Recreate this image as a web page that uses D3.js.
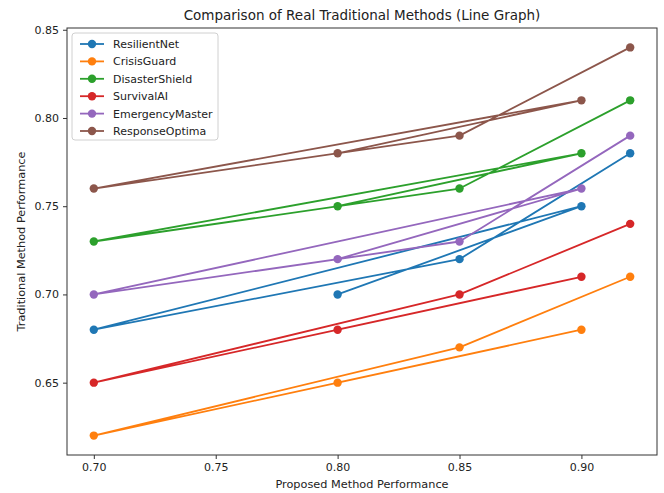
<!DOCTYPE html>
<html>
<head>
<meta charset="utf-8">
<script src="https://cdn.jsdelivr.net/npm/d3@7"></script>
<style>
  body { margin: 0; background: #fff; }
  text { font-family: "DejaVu Sans", sans-serif; fill: #222; }
  .axis path, .axis line { stroke: #333; }
</style>
</head>
<body>
<div class="chart"></div>
<script>
// proposed method performance (x), same order for every method
const proposed = [0.8, 0.9, 0.7, 0.85, 0.92];

// traditional method performance (y), one array per method
const resilientNet = [0.70, 0.75, 0.68, 0.72, 0.78];
const crisisGuard = [0.65, 0.68, 0.62, 0.67, 0.71];
const disasterShield = [0.75, 0.78, 0.73, 0.76, 0.81];
const survivalAI = [0.68, 0.71, 0.65, 0.70, 0.74];
const emergencyMaster = [0.72, 0.76, 0.70, 0.73, 0.79];
const responseOptima = [0.78, 0.81, 0.76, 0.79, 0.84];

const methodNames = ['ResilientNet', 'CrisisGuard', 'DisasterShield', 'SurvivalAI', 'EmergencyMaster', 'ResponseOptima'];
const methodValues = [resilientNet, crisisGuard, disasterShield, survivalAI, emergencyMaster, responseOptima];
const colors = ['#1f77b4', '#ff7f0e', '#2ca02c', '#d62728', '#9467bd', '#8c564b'];

const xTicks = [0.70, 0.75, 0.80, 0.85, 0.90];
const yTicks = [0.65, 0.70, 0.75, 0.80, 0.85];

// margin convention
const margin = { top: 28, right: 7, bottom: 38, left: 67 };
const width = 664 - margin.left - margin.right;
const height = 493 - margin.top - margin.bottom;

const svg = d3
  .select('.chart')
  .append('svg')
  .attr('width', width + margin.left + margin.right)
  .attr('height', height + margin.top + margin.bottom);

const group = svg
  .append('g')
  .attr('transform', 'translate(' + margin.left + ',' + margin.top + ')');

// scales with matplotlib style 5% padding
const xExt = d3.extent(proposed);
const xPad = (xExt[1] - xExt[0]) * 0.05;
const allY = methodValues.flat();
const yExt = d3.extent(allY);
const yPad = (yExt[1] - yExt[0]) * 0.05;

const xScale = d3.scaleLinear().domain([xExt[0] - xPad, xExt[1] + xPad]).range([0, width]);
const yScale = d3.scaleLinear().domain([yExt[0] - yPad, yExt[1] + yPad]).range([height, 0]);

// axes
const xAxis = d3.axisBottom(xScale).tickValues(xTicks).tickFormat(d3.format('.2f')).tickSize(4).tickPadding(4);
const yAxis = d3.axisLeft(yScale).tickValues(yTicks).tickFormat(d3.format('.2f')).tickSize(4).tickPadding(4);

group.append('g')
  .attr('class', 'x-axis axis')
  .attr('transform', 'translate(0,' + height + ')')
  .call(xAxis)
  .call((g) => g.select('.domain').remove());

group.append('g')
  .attr('class', 'y-axis axis')
  .call(yAxis)
  .call((g) => g.select('.domain').remove());

svg.selectAll('.axis text').style('font-size', '11px').style('font-family', '"DejaVu Sans", sans-serif').attr('fill', '#222');

// frame
group.append('rect')
  .attr('width', width)
  .attr('height', height)
  .attr('fill', 'none')
  .attr('stroke', '#333')
  .attr('stroke-width', 1);

// lines and markers
const line = d3
  .line()
  .x((d) => xScale(d[0]))
  .y((d) => yScale(d[1]));

methodValues.forEach((vals, i) => {
  const pts = proposed.map((x, j) => [x, vals[j]]);
  const s = group.append('g').attr('class', 'series');
  s.append('path')
    .datum(pts)
    .attr('d', line)
    .attr('fill', 'none')
    .attr('stroke', colors[i])
    .attr('stroke-width', 1.8)
    .attr('stroke-linejoin', 'round');
  s.selectAll('circle')
    .data(pts)
    .join('circle')
    .attr('cx', (d) => xScale(d[0]))
    .attr('cy', (d) => yScale(d[1]))
    .attr('r', 4.2)
    .attr('fill', colors[i]);
});

// title and axis labels
svg.append('text')
  .attr('x', margin.left + width / 2)
  .attr('y', 20)
  .attr('text-anchor', 'middle')
  .style('font-size', '13.5px')
  .text('Comparison of Real Traditional Methods (Line Graph)');

svg.append('text')
  .attr('x', margin.left + width / 2)
  .attr('y', 488)
  .attr('text-anchor', 'middle')
  .style('font-size', '11.3px')
  .text('Proposed Method Performance');

svg.append('text')
  .attr('transform', 'translate(25,' + (margin.top + height / 2) + ') rotate(-90)')
  .attr('text-anchor', 'middle')
  .style('font-size', '11.3px')
  .text('Traditional Method Performance');

// legend
const legend = group.append('g').attr('transform', 'translate(5,5)');
legend.append('rect')
  .attr('width', 146)
  .attr('height', 107)
  .attr('rx', 3)
  .attr('fill', '#fff')
  .attr('fill-opacity', 0.8)
  .attr('stroke', '#d0d0d0');

methodNames.forEach((name, i) => {
  const row = legend.append('g').attr('transform', 'translate(0,' + (11 + i * 17.4) + ')');
  row.append('line')
    .attr('x1', 8).attr('x2', 32)
    .attr('stroke', colors[i])
    .attr('stroke-width', 1.8);
  row.append('circle').attr('cx', 20).attr('r', 4.2).attr('fill', colors[i]);
  row.append('text')
    .attr('x', 41)
    .attr('y', 4)
    .style('font-size', '11px')
    .text(name);
});
</script>
</body>
</html>
